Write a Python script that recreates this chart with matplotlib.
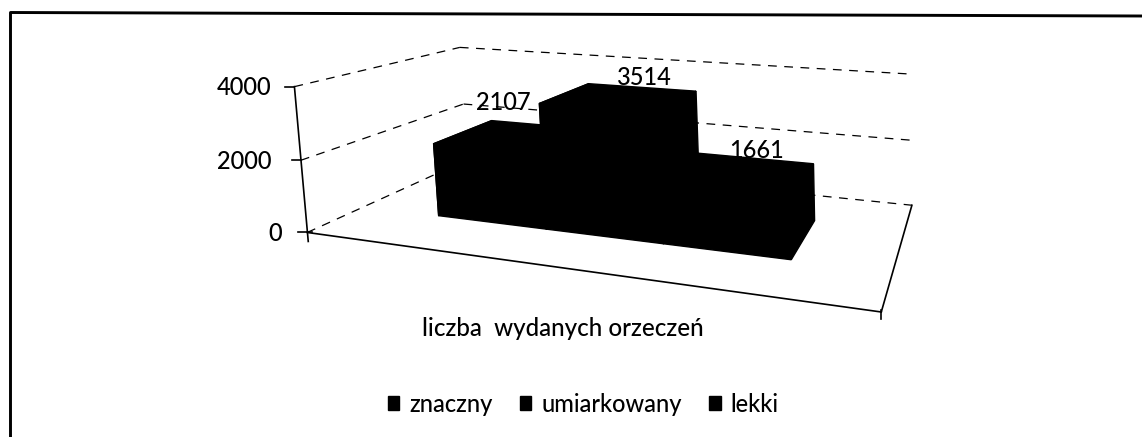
import numpy as np
import matplotlib
matplotlib.use("Agg")
import matplotlib.pyplot as plt
from matplotlib.patches import Polygon, Patch

plt.rcParams["font.family"] = ["Lato", "DejaVu Sans"]
plt.rcParams["font.weight"] = "medium"

CATEGORIES = ["znaczny", "umiarkowany", "lekki"]
VALUES = [2107, 3514, 1661]
TICKS = [0, 2000, 4000]
AXIS_LABEL = "liczba  wydanych orzeczeń"
ZMAX = 4000

# box corners (u, v, z share) -> where they sit in the scan, used to fit the camera
CALIB = [
    ((0, 0, 0), (306, 233)), ((1, 0, 0), (882, 310)), ((1, 1, 0), (912, 208)), ((0, 1, 0), (468, 158)),
    ((0, 0, 0.5), (301, 160)), ((0, 1, 0.5), (464, 105)), ((1, 1, 0.5), (910, 140)),
    ((0, 0, 1), (295, 88)), ((0, 1, 1), (459, 47)), ((1, 1, 1), (912, 73)),
]

# bar footprint on the floor
U0, U1 = 0.165, 0.836
V0, V1 = 0.30, 0.70

# nudges for data labels and tick labels, px
LABEL_DX = [-37, 3, 2]
LABEL_DY = [-14, -2, 0]
TICK_PAD = [25, 29, 23]
FS = 17
FS_TEXT = 17.4


def fit_camera():
    rows, rhs = [], []
    for (u, v, w), (x, y) in CALIB:
        rows.append([u, v, w, 1, 0, 0, 0, 0, -x * u, -x * v, -x * w])
        rhs.append(x)
        rows.append([0, 0, 0, 0, u, v, w, 1, -y * u, -y * v, -y * w])
        rhs.append(y)
    m = np.linalg.lstsq(np.array(rows, float), np.array(rhs, float), rcond=None)[0]
    return np.append(m, 1).reshape(3, 4)


CAM = fit_camera()


def proj(u, v, z):
    p = CAM @ np.array([u, v, z / ZMAX, 1.0])
    return p[0] / p[2], p[1] / p[2]


def dashed(ax, a, b):
    ax.plot(*zip(a, b), color="black", lw=0.9, ls=(0, (7, 6)), zorder=1)


fig = plt.figure(figsize=(11.42, 4.37), dpi=100)
ax = fig.add_axes([0, 0, 1, 1])
ax.set_xlim(0, 1142)
ax.set_ylim(437, 0)
ax.axis("off")

# outer frame
ax.plot([10.5, 10.5, 1142], [437, 12.5, 16], color="black", lw=2.1, zorder=1)

# walls
for t in TICKS:
    dashed(ax, proj(0, 0, t), proj(0, 1, t))
    dashed(ax, proj(0, 1, t), proj(1, 1, t))

# floor edges and value axis
x0, y0 = proj(0, 0, 0)
for a, b in [((x0, y0), proj(1, 0, 0)), (proj(1, 0, 0), proj(1, 1, 0)),
             (proj(0, 0, TICKS[-1]), (x0 + 1, y0 + 9))]:
    ax.plot(*zip(a, b), color="black", lw=1.2, zorder=2)

for t, pad in zip(TICKS, TICK_PAD):
    x, y = proj(0, 0, t)
    ax.plot([x - 9, x + (5 if t == 0 else 0)], [y, y], color="black", lw=1.2, zorder=2)
    ax.text(x - pad, y + 1, str(t), ha="right", va="center", fontsize=FS, color="black")
x, y = proj(1, 0, 0)
ax.plot([x, x], [y - 2, y + 7], color="black", lw=1.2, zorder=2)

# bars
width = (U1 - U0) / len(VALUES)
for i, val in enumerate(VALUES):
    u0 = U0 + i * width
    u1 = u0 + width
    faces = [
        [(u0, V0, 0), (u0, V1, 0), (u0, V1, val), (u0, V0, val)],
        [(u1, V0, 0), (u1, V1, 0), (u1, V1, val), (u1, V0, val)],
        [(u0, V0, 0), (u1, V0, 0), (u1, V0, val), (u0, V0, val)],
        [(u0, V0, val), (u1, V0, val), (u1, V1, val), (u0, V1, val)],
    ]
    for f in faces:
        ax.add_patch(Polygon([proj(*c) for c in f], closed=True, fc="black", ec="black", lw=1.0, zorder=3))
    lx, ly = proj((u0 + u1) / 2, V1, val)
    ax.text(lx + LABEL_DX[i], ly - 8 + LABEL_DY[i], str(val), ha="center", va="center",
            fontsize=FS, color="black", zorder=4)

ax.text(563, 328, AXIS_LABEL, ha="center", va="center", fontsize=FS_TEXT, color="black")

handles = [Patch(fc="black", ec="black", label=c) for c in CATEGORIES]
ax.legend(handles=handles, ncol=3, loc="center", bbox_to_anchor=(583, 404), bbox_transform=ax.transData,
          frameon=False, fontsize=FS, handlelength=0.5, handleheight=0.5, handletextpad=0.42,
          columnspacing=1.14, labelcolor="black")

fig.savefig("out.png", dpi=100)
